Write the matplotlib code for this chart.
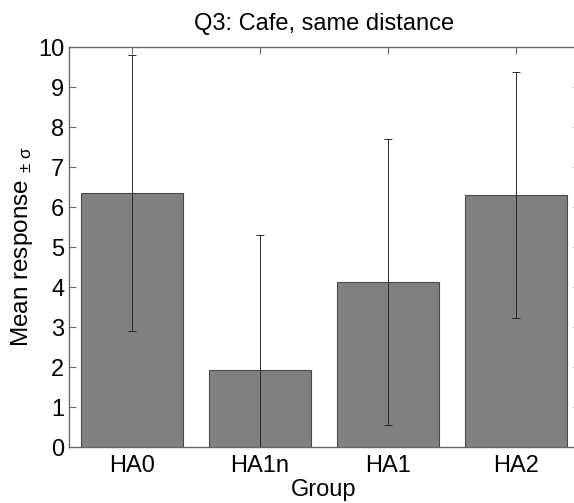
import matplotlib
matplotlib.use("Agg")
import matplotlib.pyplot as plt
import numpy as np

plt.rcParams['font.family'] = ['Liberation Sans', 'DejaVu Sans']
plt.rcParams['mathtext.fontset'] = 'custom'
plt.rcParams['mathtext.rm'] = 'Liberation Sans'
plt.rcParams['mathtext.it'] = 'Liberation Sans'

# data
groups = ['HA0', 'HA1n', 'HA1', 'HA2']
means = [6.35, 1.93, 4.13, 6.30]
sds = [3.45, 3.37, 3.57, 3.07]

W, H = 574, 503
fig = plt.figure(figsize=(W / 100, H / 100), dpi=100)
# axes runs past the right edge of the figure, like the original
ax = fig.add_axes([68.5 / W, 1 - 447 / H, 511 / W, 400 / H])

x = np.arange(1, len(groups) + 1)
ax.bar(x, means, width=0.8, color='#808080', edgecolor='#4a4a4a', linewidth=0.8, zorder=2)
ax.errorbar(x, means, yerr=sds, fmt='none', ecolor='#2a2a2a', elinewidth=0.7,
            capsize=3, capthick=0.7, zorder=3)

ax.set_xlim(0.5, 4.5)
ax.set_ylim(0, 10)
ax.set_xticks(x)
ax.set_xticklabels(groups)
ax.set_yticks(range(0, 11))

for s in ax.spines.values():
    s.set_color('#6a6a6a')
    s.set_linewidth(1.0)
ax.tick_params(direction='in', length=5, width=0.8, color='#6a6a6a',
               labelsize=17, top=True, right=True, pad=3)
ax.tick_params(axis='x', pad=6)

ax.set_title('Q3: Cafe, same distance', fontsize=17, pad=12)
ax.set_xlabel('Group', fontsize=17, labelpad=1)
ax.set_ylabel(r'Mean response $_{\pm\ \sigma}$', fontsize=17.5, labelpad=2)

fig.savefig('out.png', dpi=100)
